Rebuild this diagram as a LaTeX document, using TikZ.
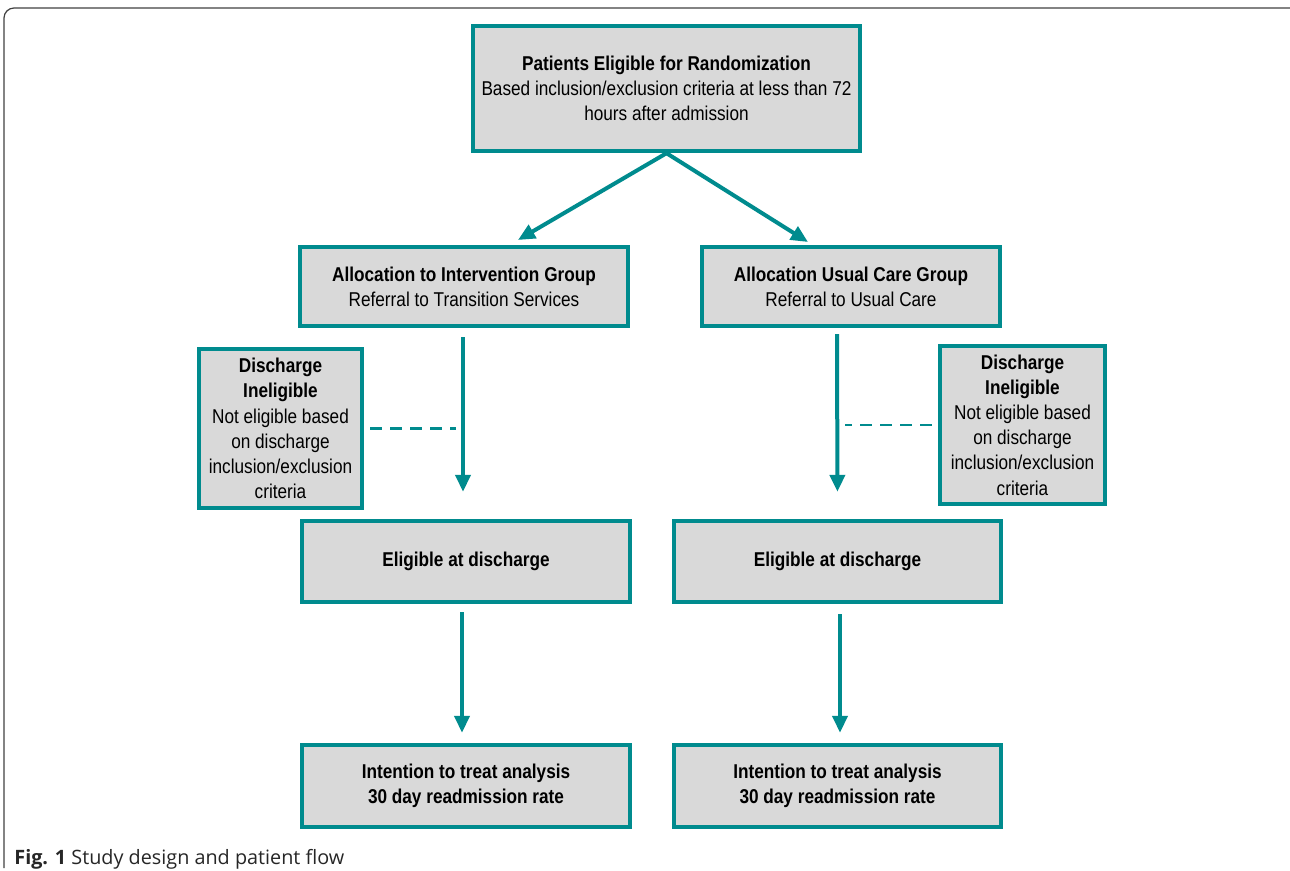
\documentclass[tikz,border=0pt]{standalone}
\usepackage{fontspec}
\setmainfont[FakeStretch=0.86]{Liberation Sans}
\newfontfamily\capfont{Open Sans}
\usetikzlibrary{arrows.meta}
\definecolor{flowteal}{RGB}{0,139,142}
\definecolor{boxgray}{RGB}{217,217,217}

\begin{document}
\begin{tikzpicture}[x=0.5pt,y=-0.5pt,
  flowbox/.style={draw=flowteal,fill=boxgray,line width=2.2pt,align=center,inner sep=0pt,
    font=\fontsize{10}{12.6}\selectfont},
  flowarrow/.style={draw=flowteal,line width=2pt,-{Triangle[length=8.5pt,width=7.5pt]}},
  skipline/.style={draw=flowteal,line width=1.1pt,dash pattern=on 6pt off 4pt}]
\useasboundingbox (0,0) rectangle (1290,871);
% Frame of the figure
\draw[line width=0.6pt,color=black!75,rounded corners=5pt] (1290,8) -- (4,8) -- (4,868);
% Boxes
\node[flowbox,minimum width=193.5pt,minimum height=62.5pt] (elig) at (666.5,88.5)
  {\textbf{Patients Eligible for Randomization}\\Based inclusion/exclusion criteria at less than 72\\hours after admission};
\node[flowbox,minimum width=164pt,minimum height=39.5pt] (allocL) at (464,286.5)
  {\textbf{Allocation to Intervention Group}\\Referral to Transition Services};
\node[flowbox,minimum width=149pt,minimum height=39.5pt] (allocR) at (851,286.5)
  {\textbf{Allocation Usual Care Group}\\Referral to Usual Care};
\node[flowbox,minimum width=81.5pt,minimum height=79.5pt] (dischL) at (280.5,428.5)
  {\textbf{Discharge}\\\textbf{Ineligible}\\Not eligible based\\on discharge\\inclusion/exclusion\\criteria};
\node[flowbox,minimum width=82.5pt,minimum height=79pt] (dischR) at (1022.5,425)
  {\textbf{Discharge}\\\textbf{Ineligible}\\Not eligible based\\on discharge\\inclusion/exclusion\\criteria};
\node[flowbox,minimum width=164pt,minimum height=40.5pt] (eligL) at (466,561.5)
  {\textbf{Eligible at discharge}};
\node[flowbox,minimum width=163.5pt,minimum height=40.5pt] (eligR) at (837.5,561.5)
  {\textbf{Eligible at discharge}};
\node[flowbox,minimum width=164pt,minimum height=41pt] (ittL) at (466,786)
  {\textbf{Intention to treat analysis}\\\textbf{30 day readmission rate}};
\node[flowbox,minimum width=163.5pt,minimum height=41pt] (ittR) at (837.5,786)
  {\textbf{Intention to treat analysis}\\\textbf{30 day readmission rate}};
% Arrows
\coordinate (splitL) at (518,240);
\coordinate (splitR) at (808,242);
\draw[flowarrow] (elig.south) -- (splitL);
\draw[flowarrow] (elig.south) -- (splitR);
\draw[flowarrow,shorten <=4.5pt,shorten >=13.5pt] (allocL.south -| 463,0) -- (eligL.north -| 463,0);
\draw[flowarrow,shorten <=3pt,shorten >=13.5pt] (allocR.south -| 837,0) -- (eligR.north);
\draw[flowarrow,shorten <=4pt,shorten >=5pt] (eligL.south -| 462,0) -- (ittL.north -| 462,0);
\draw[flowarrow,shorten <=5pt,shorten >=5pt] (eligR.south -| 840,0) -- (ittR.north -| 840,0);
% Dashed links to the ineligible boxes
\draw[skipline,shorten <=3pt,shorten >=2.5pt] (dischL.east) -- (dischL.east -| 461,0);
\draw[skipline,shorten <=3pt,shorten >=2.5pt] (dischR.west) -- (dischR.west -| 840,0);
% Caption
\node[anchor=base west,inner sep=0pt,text=black!85,font=\capfont\fontsize{9.9}{12}\selectfont] (caption) at (14,864)
  {\textbf{Fig. 1} Study design and patient flow};
\end{tikzpicture}
\end{document}
